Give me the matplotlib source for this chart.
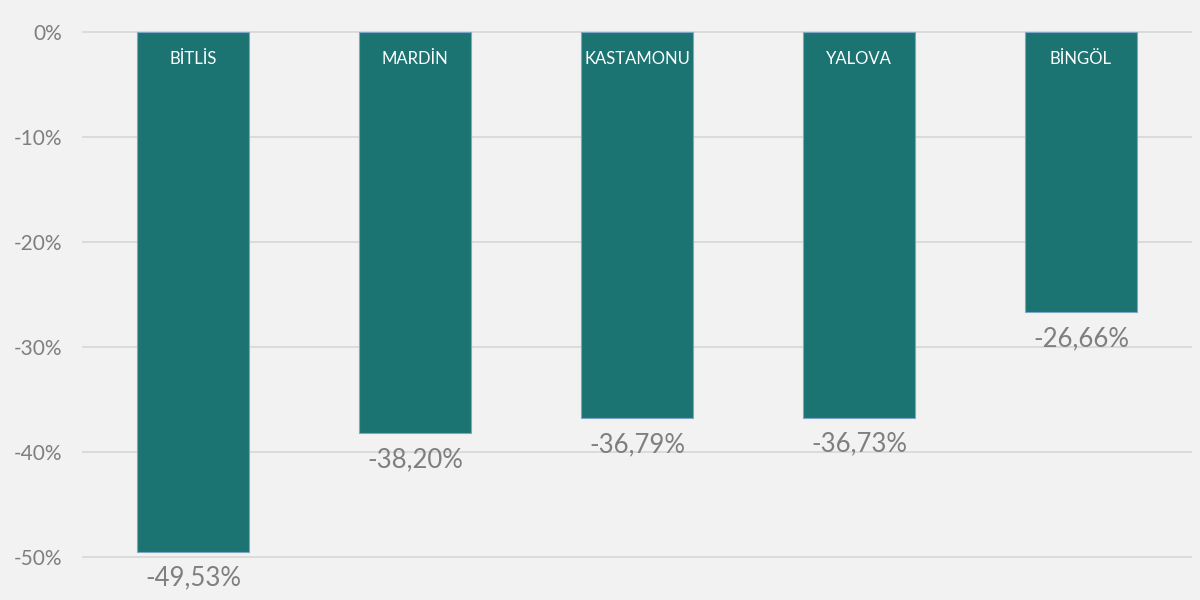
import matplotlib.pyplot as plt
import numpy as np

provinces = ['BİTLİS', 'MARDİN', 'KASTAMONU', 'YALOVA', 'BİNGÖL']
changes = [-49.53, -38.20, -36.79, -36.73, -26.66]
y_ticks = [0, -10, -20, -30, -40, -50]

plt.rcParams['font.family'] = ['Lato', 'DejaVu Sans']

bg = '#f2f2f2'
bar_color = '#1b7472'
text_gray = '#7f7f7f'

fig = plt.figure(figsize=(12, 6), dpi=100, facecolor=bg)
ax = fig.add_axes([0.0683, 0.002, 0.925, 0.958])
ax.set_facecolor(bg)

x = np.arange(len(provinces))
bars = ax.bar(x, changes, width=0.505, color=bar_color, edgecolor='#7fa6c9',
              linewidth=0.8, zorder=3)

ax.set_xlim(-0.5, len(provinces) - 0.5)
ax.set_ylim(-54, 0.8)
ax.set_yticks(y_ticks)
ax.set_yticklabels([f'{t}%' for t in y_ticks], color=text_gray, fontsize=15)
ax.set_xticks([])
ax.tick_params(axis='y', length=0, pad=14)
ax.grid(axis='y', color='#d9d9d9', linewidth=1.3, zorder=0)
for s in ax.spines.values():
    s.set_visible(False)

for xi, name, val in zip(x, provinces, changes):
    # province name inside the bar, near the top
    ax.annotate(name, (xi, 0), xytext=(0, -19), textcoords='offset points',
                ha='center', va='center', color='white', fontsize=12)
    # value label under the bar end
    ax.annotate(f'{val:.2f}%'.replace('.', ','), (xi, val), xytext=(0, -19),
                textcoords='offset points', ha='center', va='center',
                color=text_gray, fontsize=18.5)

fig.savefig('out.png', dpi=100, facecolor=bg)
